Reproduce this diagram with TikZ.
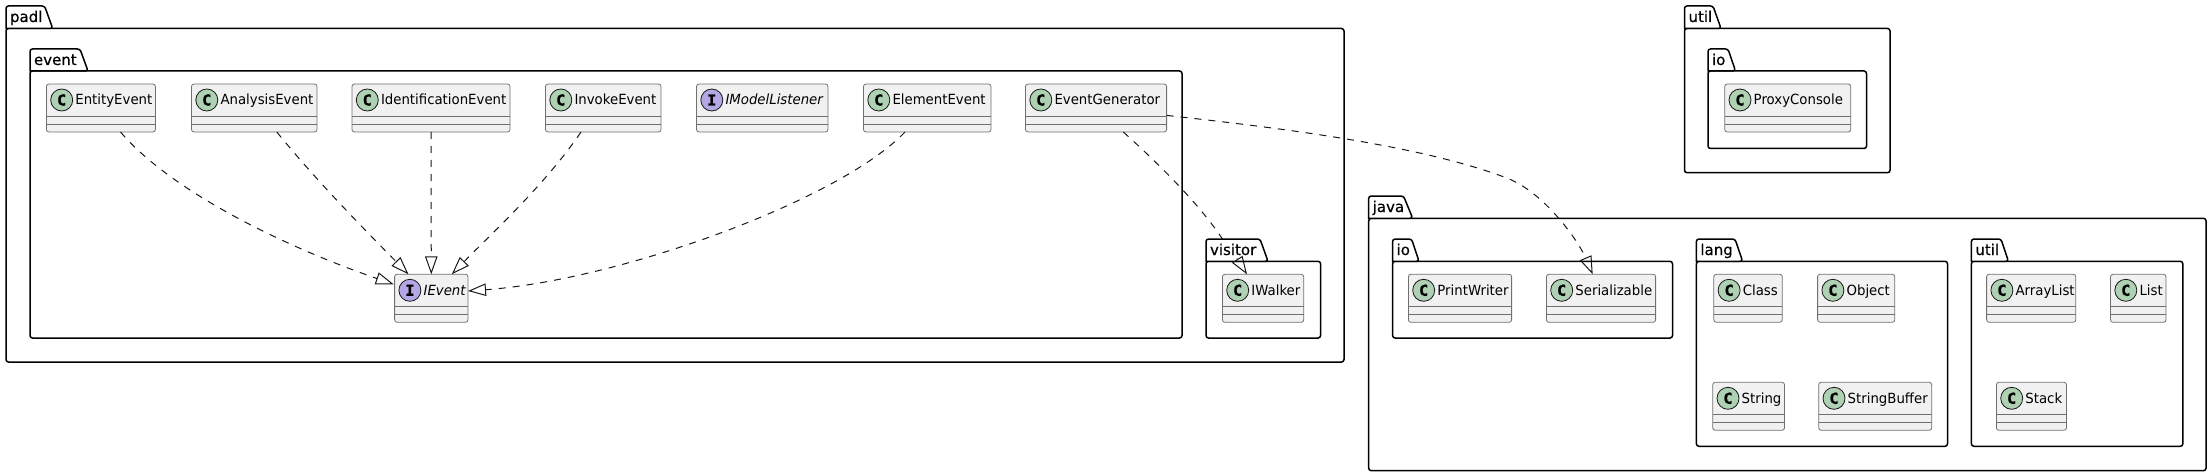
\documentclass[tikz,border=0pt]{standalone}
\usepackage{fontspec}
\setmainfont[FakeStretch=.95]{DejaVu Sans}
\newfontfamily\circfont[BoldFeatures={FakeBold=1.5}]{DejaVu Sans Mono}
\newfontfamily\pkgfont[FakeBold=.5]{DejaVu Sans}
\usetikzlibrary{arrows.meta}
\definecolor{ink}{HTML}{181818}
\definecolor{softline}{HTML}{707070}
\definecolor{boxfill}{HTML}{F1F1F1}
\definecolor{classcirc}{HTML}{ADD1B2}
\definecolor{ifacecirc}{HTML}{B4A7E5}
\tikzset{
  pkgbody/.style={draw=black,line width=1.5pt,fill=white,rounded corners=2.5pt,inner sep=0pt,outer sep=0pt,anchor=north west},
  pkgtab/.style={draw=black,line width=1.5pt,fill=white,rounded corners=2.5pt},
  pkglabel/.style={font=\fontsize{15}{17}\selectfont\pkgfont,inner sep=0pt,outer sep=0pt,anchor=base west},
  classbox/.style={draw=softline,line width=.8pt,fill=boxfill,rounded corners=2.5pt,inner sep=0pt,outer sep=0pt,anchor=north west},
  classlabel/.style={font=\fontsize{14}{16}\selectfont,inner sep=0pt,outer sep=0pt,anchor=base west,text=black},
  circmark/.style={draw=ink,line width=.8pt,circle,minimum size=22pt,inner sep=0pt,outer sep=0pt,font=\fontsize{15}{15}\selectfont\circfont\bfseries,text=black},
  sep/.style={draw=softline,line width=.8pt},
  realizeline/.style={draw=ink,line width=1pt,dash pattern=on 7pt off 7pt},
  realize/.style={realizeline,-{Triangle[open,length=18pt,width=12.5pt,line width=1pt]}},
  realizetip/.style={draw=ink,line width=1pt,-{Triangle[open,length=18pt,width=12.5pt,line width=1pt]}},
}
% #1 name #2 label #3 x1 #4 ytop #5 ybody #6 x2 #7 ybot #8 tab top right #9 tab right
\newcommand{\pkgdraw}[9]{%
  \node[pkgbody,minimum width={(#6-#3)*1pt},minimum height={(#7-#5)*1pt}] (#1) at (#3,#5) {};
  \draw[pkgtab] (#3,#5) -- (#3,#4) -- (#8,#4) -- (#9,#5) [sharp corners] -- cycle;
  \node[pkglabel] (#1lab) at (#3+4,#4+16) {#2};
}
% #1 name #2 label #3 x1 #4 ytop #5 x2 #6 circle style #7 letter #8 font
\newcommand{\clsdraw}[8]{%
  \node[classbox,minimum width={(#5-#3)*1pt},minimum height=48pt] (#1) at (#3,#4) {};
  \draw[sep] (#3,#4+32) -- (#5,#4+32);
  \draw[sep] (#3,#4+40) -- (#5,#4+40);
  \node[circmark,fill=#6] (#1c) at (#3+15.3,#4+16) {#7};
  \node[classlabel] (#1t) at (#3+29,#4+21) {#8#2};
}
\newcommand{\C}[5]{\clsdraw{#1}{#2}{#3}{#4}{#5}{classcirc}{C}{}}
\newcommand{\I}[5]{\clsdraw{#1}{#2}{#3}{#4}{#5}{ifacecirc}{I}{\itshape}}
\begin{document}
\begin{tikzpicture}[x=1pt,y=-1pt]
\useasboundingbox (0,0) rectangle (2212,476);
% packages
\pkgdraw{padl}{padl}{6}{6}{28.5}{1344}{362}{44.6}{52.7}
\pkgdraw{event}{event}{30}{49}{71}{1182}{338}{80}{88}
\pkgdraw{visitor}{visitor}{1206}{239}{261.3}{1320.6}{338}{1260}{1268}
\pkgdraw{utilpk}{util}{1684.5}{6}{28.5}{1890}{172.7}{1713}{1721}
\pkgdraw{utilio}{io}{1708}{49}{71}{1866.5}{148.5}{1728}{1735.5}
\pkgdraw{java}{java}{1368.7}{196}{218.3}{2206}{470.7}{1403.5}{1412.7}
\pkgdraw{javaio}{io}{1392.6}{239}{261.3}{1672.5}{338}{1411.6}{1419}
\pkgdraw{lang}{lang}{1696.4}{239}{261.3}{1947.5}{446.3}{1735}{1742.6}
\pkgdraw{jutil}{util}{1971.4}{239}{261.3}{2182.8}{446.3}{2001}{2008.4}
% classes
\C{entity}{EntityEvent}{46.4}{84}{155.4}
\C{analysis}{AnalysisEvent}{191.5}{84}{317}
\C{ident}{IdentificationEvent}{352}{84}{510}
\C{invoke}{InvokeEvent}{545.5}{84}{661}
\I{listener}{IModelListener}{696.5}{84}{828}
\C{element}{ElementEvent}{863.5}{84}{991}
\C{generator}{EventGenerator}{1025.5}{84}{1166.6}
\I{ievent}{IEvent}{394.6}{274.3}{468}
\C{iwalker}{IWalker}{1222.4}{274.3}{1303.7}
\C{proxy}{ProxyConsole}{1724.7}{84}{1850.8}
\C{printw}{PrintWriter}{1408.4}{274.3}{1511.6}
\C{serial}{Serializable}{1546.4}{274.3}{1655.6}
\C{klass}{Class}{1713.8}{274.3}{1782.3}
\C{object}{Object}{1817.6}{274.3}{1894.8}
\C{string}{String}{1712.7}{382.3}{1784.5}
\C{sbuf}{StringBuffer}{1818.7}{382.3}{1931.7}
\C{arrlist}{ArrayList}{1986.6}{274.3}{2075.8}
\C{jlist}{List}{2110.5}{274.3}{2166}
\C{jstack}{Stack}{1996.4}{382.3}{2066.5}
% connectors
\coordinate (vtop) at (1222.4,239);
\coordinate (vbase) at (1236.8,258.6);
\draw[realize] ([xshift=74.1pt]entity.south west) .. controls (170,190) and (280,245) .. ([xshift=-.9pt,yshift=-10pt]ievent.north west);
\draw[realize] ([xshift=85.3pt]analysis.south west) .. controls (320,185) and (370,235) .. ([xshift=13.9pt]ievent.north west);
\draw[realize] (ident.south) -- (ievent.north);
\draw[realize] ([xshift=35.5pt]invoke.south west) .. controls (545,185) and (490,235) .. ([xshift=57.2pt]ievent.north west);
\draw[realize] ([xshift=41.5pt]element.south west) .. controls (840,200) and (620,280) .. ([yshift=-16.7pt]ievent.north east);
\draw[realizeline] ([xshift=97.8pt]generator.south west) .. controls (1160,165) and (1200,205) .. (vtop);
\draw[realizetip] (vbase) -- ([xshift=24.6pt]iwalker.north west);
\draw[realize] ([yshift=16.6pt]generator.south east) .. controls (1280,128) and (1420,145) .. (1506.7,178) .. controls (1545,192.6) and (1578.7,241.7) .. ([xshift=46.3pt]serial.north west);
\end{tikzpicture}
\end{document}
